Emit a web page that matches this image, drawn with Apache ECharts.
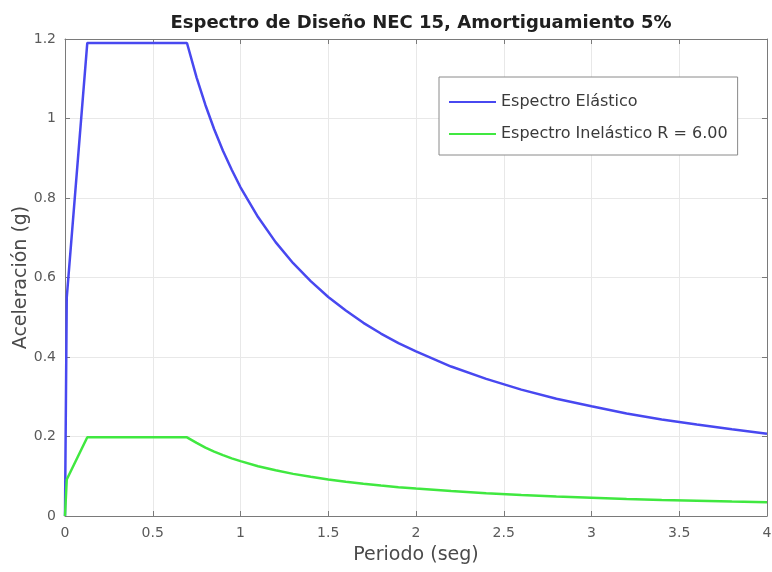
<!DOCTYPE html>
<html><head><meta charset="utf-8">
<script src="https://cdn.jsdelivr.net/npm/echarts@6/dist/echarts.min.js"></script>
<style>html,body{margin:0;padding:0;background:#fff}#c{width:772px;height:572px}</style>
</head><body><div id="c"></div>
<script>
const title = 'Espectro de Diseño NEC 15, Amortiguamiento 5%';
const xName = 'Periodo (seg)';
const yName = 'Aceleración (g)';
const seriesNames = ['Espectro Elástico', 'Espectro Inelástico R = 6.00'];
const periods = [0, 0.01, 0.127, 0.695, 0.75, 0.8, 0.85, 0.9, 0.95, 1.0, 1.1, 1.2, 1.3, 1.4, 1.5, 1.6, 1.7, 1.8, 1.9, 2.0, 2.2, 2.4, 2.6, 2.8, 3.0, 3.2, 3.4, 3.6, 3.8, 4.0];
const elastic = [0, 0.55, 1.19, 1.19, 1.103, 1.034, 0.973, 0.919, 0.871, 0.827, 0.752, 0.689, 0.636, 0.591, 0.551, 0.517, 0.486, 0.459, 0.435, 0.414, 0.376, 0.345, 0.318, 0.295, 0.276, 0.258, 0.243, 0.230, 0.218, 0.207];
const inelastic = [0, 0.092, 0.198, 0.198, 0.184, 0.172, 0.162, 0.153, 0.145, 0.138, 0.125, 0.115, 0.106, 0.0985, 0.092, 0.086, 0.081, 0.0765, 0.0725, 0.069, 0.0627, 0.0575, 0.053, 0.049, 0.046, 0.043, 0.0405, 0.0383, 0.0363, 0.0345];
const xTicks = [0, 0.5, 1, 1.5, 2, 2.5, 3, 3.5, 4];
const yTicks = [0, 0.2, 0.4, 0.6, 0.8, 1, 1.2];

const font = 'DejaVu Sans, Verdana, sans-serif';
const axisCol = '#5a5a5a';
const chart = echarts.init(document.getElementById('c'), null, {renderer: 'canvas'});
const pair = (xs, ys) => xs.map((x, i) => [x, ys[i]]);
const tickFmt = v => String(Math.round(v * 10) / 10);
const frameAxis = {
  axisLine: {show: true, onZero: false, lineStyle: {color: '#7a7a7a', width: 1}},
  axisTick: {show: true, inside: true, length: 5, lineStyle: {color: '#7a7a7a'}}
};
chart.setOption({
  animation: false,
  backgroundColor: '#fff',
  title: {
    text: title, left: 416, top: 9, textAlign: 'center',
    textStyle: {fontFamily: font, fontSize: 18, fontWeight: 'bold', color: '#202020'}
  },
  legend: {
    orient: 'vertical', left: 439, top: 77,
    itemWidth: 47, itemHeight: 18, itemGap: 16,
    padding: [17, 10, 13, 10],
    borderColor: '#8a8a8a', borderWidth: 1, backgroundColor: '#fff',
    textStyle: {fontFamily: font, fontSize: 16, color: '#3a3a3a'},
    icon: 'path://M0,6 L47,6 L47,8 L0,8 Z',
    data: seriesNames
  },
  grid: {left: 65, right: 5, top: 39, bottom: 56, containLabel: false, outerBoundsMode: 'none'},
  xAxis: [Object.assign({
    type: 'value', min: 0, max: 4, interval: 0.5, position: 'bottom',
    name: xName, nameLocation: 'middle', nameGap: 30, nameMoveOverlap: false,
    nameTextStyle: {fontFamily: font, fontSize: 19, color: '#4a4a4a'},
    axisLabel: {fontFamily: font, fontSize: 14, color: axisCol, margin: 10, formatter: tickFmt},
    splitLine: {show: true, lineStyle: {color: '#e8e8e8', width: 1}}
  }, frameAxis), Object.assign({
    type: 'value', min: 0, max: 4, interval: 0.5, position: 'top',
    axisLabel: {show: false}, splitLine: {show: false}
  }, frameAxis)],
  yAxis: [Object.assign({
    type: 'value', min: 0, max: 1.2, interval: 0.2, position: 'left',
    name: yName, nameLocation: 'middle', nameGap: 34, nameRotate: 90, nameMoveOverlap: false,
    nameTextStyle: {fontFamily: font, fontSize: 19, color: '#4a4a4a'},
    axisLabel: {fontFamily: font, fontSize: 14, color: axisCol, margin: 9, formatter: tickFmt},
    splitLine: {show: true, lineStyle: {color: '#e8e8e8', width: 1}}
  }, frameAxis), Object.assign({
    type: 'value', min: 0, max: 1.2, interval: 0.2, position: 'right',
    axisLabel: {show: false}, splitLine: {show: false}
  }, frameAxis)],
  series: [{
    name: seriesNames[0], type: 'line', data: pair(periods, elastic),
    showSymbol: false, symbol: 'none', color: '#4848f0',
    lineStyle: {color: '#4848f0', width: 2.5}
  }, {
    name: seriesNames[1], type: 'line', data: pair(periods, inelastic),
    showSymbol: false, symbol: 'none', color: '#40e840',
    lineStyle: {color: '#40e840', width: 2.5}
  }]
});
</script></body></html>
